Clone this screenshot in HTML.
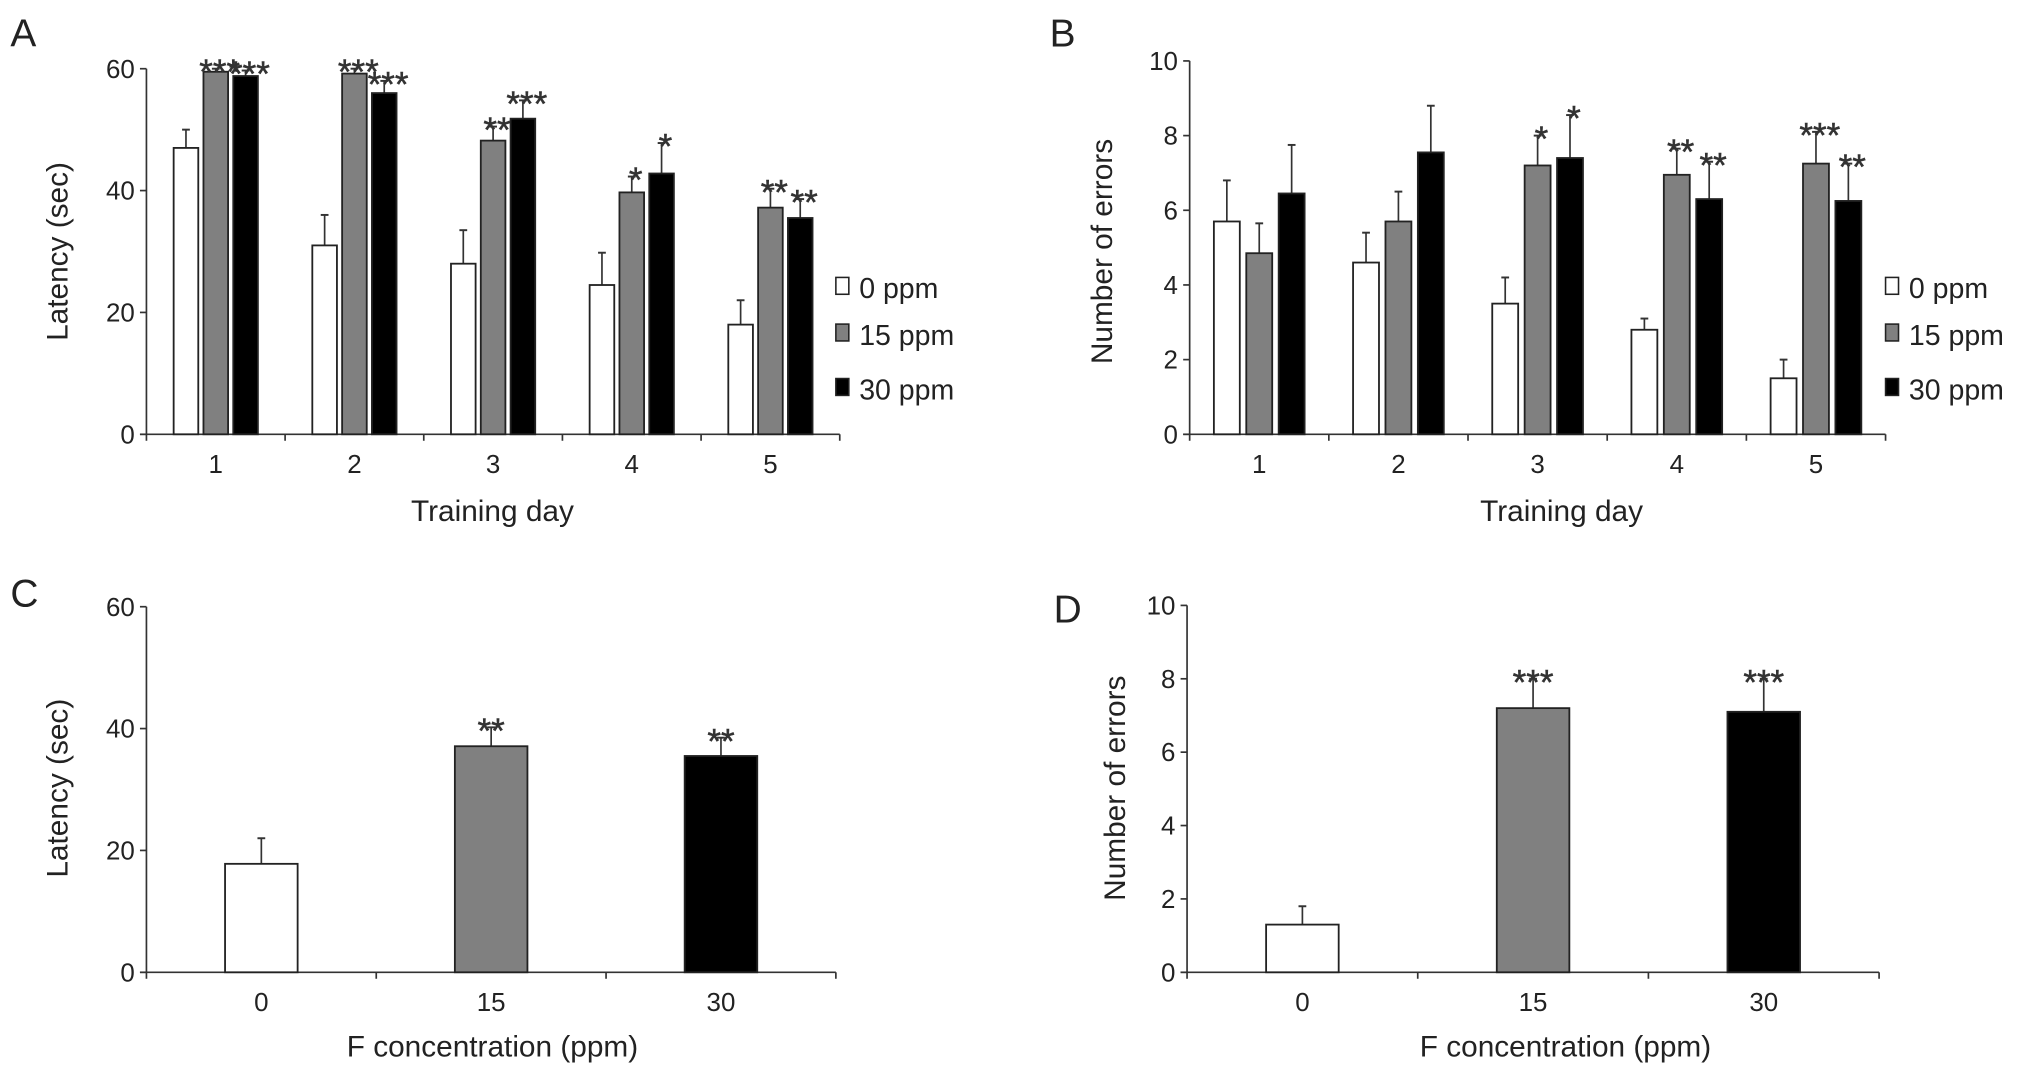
<!DOCTYPE html>
<html><head><meta charset="utf-8"><style>
html,body{margin:0;padding:0;background:#fff}
svg{display:block;font-family:"Liberation Sans",Arial,sans-serif}
</style></head><body>
<svg id="fig" width="2032" height="1076" viewBox="0 0 1568 830" preserveAspectRatio="none" xmlns="http://www.w3.org/2000/svg"></svg>
<script>
// Panel A data
const daysA = ["1","2","3","4","5"];
const latency0 = [47,31,28,24.5,18];
const latency0Err = [50,36,33.5,29.8,22];
const latency15 = [59.5,59.2,48.2,39.7,37.2];
const latency15Err = [60,60,50.5,42.3,40.3];
const latency30 = [58.8,56,51.8,42.8,35.5];
const latency30Err = [59.7,58,54.8,47.8,38.6];
const latency15Stars = ["***","***","**","*","**"];
const latency30Stars = ["***","***","***","*","**"];
const ticksA = [0,20,40,60];
// Panel B data
const errors0 = [5.7,4.6,3.5,2.8,1.5];
const errors0Err = [6.8,5.4,4.2,3.1,2.0];
const errors15 = [4.85,5.7,7.2,6.95,7.25];
const errors15Err = [5.65,6.5,8.0,7.65,8.1];
const errors30 = [6.45,7.55,7.4,6.3,6.25];
const errors30Err = [7.75,8.8,8.55,7.3,7.25];
const errors15Stars = ["","","*","**","***"];
const errors30Stars = ["","","*","**","**"];
const ticksB = [0,2,4,6,8,10];
// Panel C data
const concC = ["0","15","30"];
const latencyC = [17.8,37.1,35.5];
const latencyCErr = [22,40.2,38.5];
const latencyCStars = ["","**","**"];
// Panel D data
const errorsD = [1.3,7.2,7.1];
const errorsDErr = [1.8,8.0,8.0];
const errorsDStars = ["","***","***"];
const seriesNames = ["0 ppm","15 ppm","30 ppm"];

const NS="http://www.w3.org/2000/svg";
const svg=document.getElementById('fig');
const fills=["#fff","#808080","#000"];
function el(tag,attrs,parent,text){const e=document.createElementNS(NS,tag);for(const k in attrs)e.setAttribute(k,attrs[k]);if(text!==undefined)e.textContent=text;(parent||svg).appendChild(e);return e;}

function panel(p){
  const g=el('g',{});
  
  
  const y=v=>p.y0-(v-0)/p.max*(p.y0-p.yTop);
  const letter=el('text',{x:p.lx,y:p.ly,'font-size':30,fill:'#222'},g,p.id);
  
  
  const ya=el('line',{x1:p.x0,x2:p.x0,y1:p.y0,y2:p.yTop,stroke:'#333','stroke-width':1.3},g);
  
  
  const xa=el('line',{x1:p.x0-5,x2:p.x1,y1:p.y0,y2:p.y0,stroke:'#333','stroke-width':1.3},g);
  
  
  p.ticks.forEach(t=>{
    el('line',{x1:p.x0-5,x2:p.x0,y1:y(t),y2:y(t),stroke:'#333','stroke-width':1.3},g);
    const tl=el('text',{x:p.x0-9,y:y(t)+7,'font-size':20,'text-anchor':'end',fill:'#222'},g,String(t));
    
    
  });
  const n=p.cats.length, gw=(p.x1-p.x0)/n;
  for(let i=0;i<=n;i++) el('line',{x1:p.x0+i*gw,x2:p.x0+i*gw,y1:p.y0,y2:p.y0+5,stroke:'#333','stroke-width':1.3},g);
  p.cats.forEach((c,i)=>{
    const cx=p.x0+(i+0.5)*gw;
    const xl=el('text',{x:cx,y:p.y0+30,'font-size':20,'text-anchor':'middle',fill:'#222'},g,c);
    
    
    p.series.forEach((s,k)=>{
      const bx=p.single? cx-p.bw/2 : cx+(k-1)*(p.bw+p.gap)-p.bw/2;
      const val=s.v[i], top=y(val), et=y(s.e[i]);
      const fill=p.single?fills[i]:fills[k];
      const ln=el('line',{x1:bx+p.bw/2,x2:bx+p.bw/2,y1:top,y2:et,stroke:'#333','stroke-width':1.3},g);
      
      
      el('line',{x1:bx+p.bw/2-3,x2:bx+p.bw/2+3,y1:et,y2:et,stroke:'#333','stroke-width':1.5},g);
      const r=el('rect',{x:bx,y:top,width:p.bw,height:p.y0-top,fill:fill,stroke:'#222','stroke-width':1.4},g);
      
      
      const st=s.s[i];
      if(st){
        const sx=p.single?bx+p.bw/2:bx+p.bw/2+(k==0?-3:3);
        const t=el('text',{x:sx,y:et+12,'font-size':27,'text-anchor':'middle',fill:'#333',stroke:'#333','stroke-width':0.4},g,st);
        
        
      }
    });
  });
  const xt=el('text',{x:p.xtx,y:p.xty,'font-size':23,'text-anchor':'middle',fill:'#222'},g,p.xtitle);
  
  
  const yt=el('text',{x:0,y:0,'font-size':23,'text-anchor':'middle',fill:'#222',transform:`translate(${p.ytx},${p.yty}) rotate(-90)`},g,p.ytitle);
  
  
  if(p.legendX){
    seriesNames.forEach((nm,k)=>{
      const ly=[230,266,308][k];
      const lg=el('g',{},g);
      
      
      el('rect',{x:p.legendX,y:ly-16,width:10,height:13,fill:fills[k],stroke:'#222','stroke-width':1.2},lg);
      el('text',{x:p.legendX+18,y:ly,'font-size':22,fill:'#222'},lg,nm);
    });
  }
}
panel({id:'A',lx:8,ly:36,x0:113,x1:648,y0:335,yTop:53,max:60,ticks:ticksA,cats:daysA,bw:19,gap:4,
  series:[{v:latency0,e:latency0Err,s:["","","","",""]},{v:latency15,e:latency15Err,s:latency15Stars},{v:latency30,e:latency30Err,s:latency30Stars}],
  xtitle:'Training day',xtx:380,xty:402,ytitle:'Latency (sec)',ytx:52,yty:194,legendX:645});
panel({id:'B',lx:810,ly:36,x0:918,x1:1455,y0:335,yTop:47,max:10,ticks:ticksB,cats:daysA,bw:20,gap:5,
  series:[{v:errors0,e:errors0Err,s:["","","","",""]},{v:errors15,e:errors15Err,s:errors15Stars},{v:errors30,e:errors30Err,s:errors30Stars}],
  xtitle:'Training day',xtx:1205,xty:402,ytitle:'Number of errors',ytx:858,yty:194,legendX:1455});
panel({id:'C',lx:8,ly:468,x0:113,x1:645,y0:750,yTop:468,max:60,ticks:ticksA,cats:concC,bw:56,gap:0,single:true,
  series:[{v:latencyC,e:latencyCErr,s:latencyCStars}],
  xtitle:'F concentration (ppm)',xtx:380,xty:815,ytitle:'Latency (sec)',ytx:52,yty:608});
panel({id:'D',lx:813,ly:480,x0:916,x1:1450,y0:750,yTop:467,max:10,ticks:ticksB,cats:concC,bw:56,gap:0,single:true,
  series:[{v:errorsD,e:errorsDErr,s:errorsDStars}],
  xtitle:'F concentration (ppm)',xtx:1208,xty:815,ytitle:'Number of errors',ytx:868,yty:608});
</script>
</body></html>
